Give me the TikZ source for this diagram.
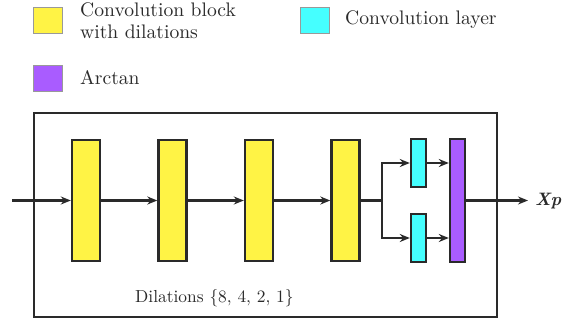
\documentclass[tikz,border=0pt]{standalone}
\usepackage{fontspec}
\newfontfamily\labelfont[Extension=.otf,BoldItalicFont=lmroman10-bolditalic]{lmroman10-regular}
\usetikzlibrary{arrows.meta}
\definecolor{blockyellow}{HTML}{FFF345}
\definecolor{layercyan}{HTML}{45FFFF}
\definecolor{atanpurple}{HTML}{A95CFF}
\definecolor{ink}{HTML}{2A2A2A}
\begin{document}
\begin{tikzpicture}[x=1pt,y=-1pt,
  convblock/.style={draw=ink,line width=2.4pt,fill=blockyellow,minimum width=28pt,minimum height=121pt,inner sep=0pt},
  convlayer/.style={draw=ink,line width=2.4pt,fill=layercyan,minimum width=15pt,minimum height=48pt,inner sep=0pt},
  atanblock/.style={draw=ink,line width=2.4pt,fill=atanpurple,minimum width=15pt,minimum height=123pt,inner sep=0pt},
  legendbox/.style={draw=gray!80,line width=0.8pt,minimum width=29pt,minimum height=26pt,inner sep=0pt},
  legendtext/.style={anchor=west,align=left,font=\labelfont\fontsize{19.6}{22}\selectfont,inner sep=0pt,text=ink},
  flow/.style={draw=ink,line width=2.2pt},
  arrow/.style={flow,-{Stealth[length=10pt,width=8pt]}}
]
\useasboundingbox (0,0) rectangle (562,326);

% legend
\node[legendbox,fill=blockyellow] (lgY) at (47.5,20) {};
\node[legendtext] (lgYt) at (80,21) {Convolution block\\with dilations};
\node[legendbox,fill=layercyan] (lgC) at (315,20) {};
\node[legendtext] (lgCt) at (345,20) {Convolution layer};
\node[legendbox,fill=atanpurple] (lgP) at (48,78) {};
\node[legendtext] (lgPt) at (80,78) {Arctan};

% network frame
\draw[ink,line width=2.4pt] (34,113) rectangle (497,317);
\node[anchor=west,inner sep=0pt,font=\labelfont\fontsize{17.4}{20}\selectfont,text=ink] (dil) at (135,298) {Dilations \{8, 4, 2, 1\}};

% blocks
\node[convblock] (y1) at (86,200.5) {};
\node[convblock] (y2) at (172.5,200.5) {};
\node[convblock] (y3) at (259,200.5) {};
\node[convblock] (y4) at (345.5,200.5) {};
\node[convlayer] (c1) at (418.5,163) {};
\node[convlayer] (c2) at (418.5,238) {};
\node[atanblock] (p) at (457.5,200.5) {};

% connectors
\coordinate (in) at (12,200.5);
\coordinate (br) at (382,200.5);
\coordinate (out) at (528,200.5);
\draw[arrow] (in) -- (y1.west);
\draw[arrow] (y1.east) -- (y2.west);
\draw[arrow] (y2.east) -- (y3.west);
\draw[arrow] (y3.east) -- (y4.west);
\draw[flow] (y4.east) -- (br);
\draw[arrow] (br) |- (c1.west);
\draw[arrow] (br) |- (c2.west);
\draw[arrow] (c1.east) -- (p.west |- c1.east);
\draw[arrow] (c2.east) -- (p.west |- c2.east);
\draw[arrow] (p.east) -- (out);
\node[anchor=east,inner sep=0pt,font=\labelfont\fontsize{18}{20}\selectfont\bfseries\itshape,text=ink] (xp) at (561.5,201) {Xp};
\end{tikzpicture}
\end{document}
